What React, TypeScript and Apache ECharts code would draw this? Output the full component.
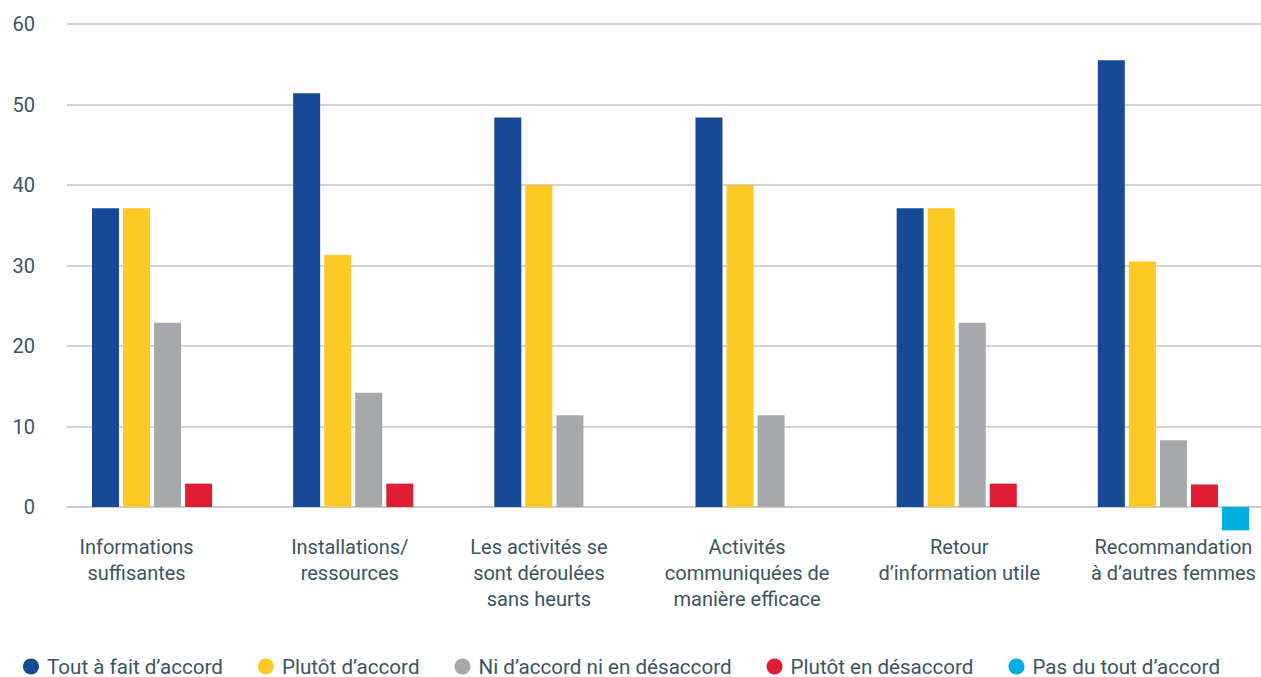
import React, { useEffect, useRef } from "react";
import * as echarts from "echarts";

const categories = [
  "Informations\nsuffisantes",
  "Installations/\nressources",
  "Les activités se\nsont déroulées\nsans heurts",
  "Activités\ncommuniquées de\nmanière efficace",
  "Retour\nd’information utile",
  "Recommandation\nà d’autres femmes",
];
const labelShift = [62, 38, 62, 48, 26, 0];

const seriesNames = [
  "Tout à fait d’accord",
  "Plutôt d’accord",
  "Ni d’accord ni en désaccord",
  "Plutôt en désaccord",
  "Pas du tout d’accord",
];
const toutAFait = [37.1, 51.4, 48.4, 48.4, 37.1, 55.5];
const plutot = [37.1, 31.3, 40, 40, 37.1, 30.5];
const ni = [22.9, 14.2, 11.4, 11.4, 22.9, 8.3];
const plutotDes = [2.9, 2.9, 0, 0, 2.9, 2.8];
const pasDuTout = [0, 0, 0, 0, 0, -2.9];
const seriesValues = [toutAFait, plutot, ni, plutotDes, pasDuTout];
const colors = ["#174a96", "#fdc926", "#a7a8ab", "#e11d35", "#00aee0"];
const yTicks = [0, 10, 20, 30, 40, 50, 60];

const textColor = "#3b5563";
const font = "Roboto, 'Noto Sans', sans-serif";

export default function App() {
  const ref = useRef<HTMLDivElement>(null);
  useEffect(() => {
    if (!ref.current) return;
    const chart = echarts.init(ref.current, undefined, { renderer: "svg" });
    chart.setOption({
      animation: false,
      textStyle: { fontFamily: font },
      legend: {
        left: 23,
        top: 656,
        padding: 0,
        icon: "circle",
        itemWidth: 16,
        itemHeight: 16,
        itemGap: 35,
        textStyle: {
          fontSize: 20.6,
          color: textColor,
          fontFamily: font,
          padding: [0, 0, 0, 3],
        },
        data: seriesNames,
      },
      grid: { left: 67, top: 24, height: 483, right: 6 },
      xAxis: {
        type: "category",
        data: categories.map((c, i) => ({
          value: c,
          textStyle: { padding: [0, labelShift[i], 0, 0] },
        })),
        axisTick: { show: false },
        axisLine: { show: true, lineStyle: { color: "#cccccc", width: 2 } },
        axisLabel: {
          interval: 0,
          margin: 27,
          fontSize: 20,
          lineHeight: 26,
          color: textColor,
          fontFamily: font,
        },
      },
      yAxis: {
        type: "value",
        min: yTicks[0],
        max: yTicks[yTicks.length - 1],
        interval: 10,
        axisLine: { show: false },
        axisTick: { show: false },
        splitLine: { lineStyle: { color: "#c4c4c4", width: 1.5 } },
        axisLabel: { margin: 32, fontSize: 20, color: textColor, fontFamily: font },
      },
      series: seriesNames.map((name, i) => ({
        name,
        type: "bar",
        data: seriesValues[i],
        barWidth: 27,
        barGap: "15%",
        clip: false,
        itemStyle: { color: colors[i] },
      })),
    });
    return () => chart.dispose();
  }, []);
  return (
    <div
      style={{
        position: "fixed",
        left: 0,
        top: 0,
        width: 1261,
        height: 677,
        overflow: "hidden",
        background: "#fff",
      }}
    >
      <div ref={ref} style={{ width: 1280, height: 677 }} />
    </div>
  );
}
